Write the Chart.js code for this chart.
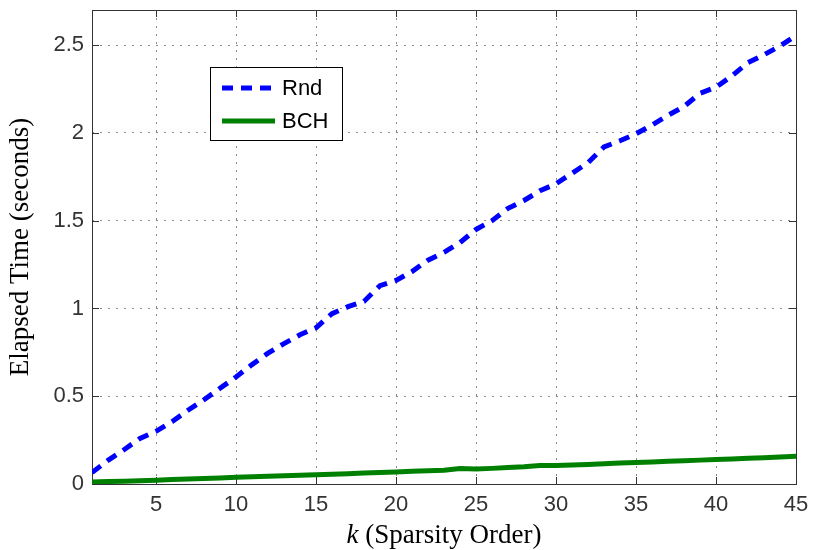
<!DOCTYPE html>
<html><head><meta charset="utf-8">
<script src="https://cdn.jsdelivr.net/npm/chart.js@4/dist/chart.umd.min.js"></script>
<style>html,body{margin:0;padding:0;background:#fff}#wrap{width:813px;height:550px}</style>
</head><body><div id="wrap"><canvas id="c" width="813" height="550"></canvas></div>
<script>
const kValues = [1,2,3,4,5,6,7,8,9,10,11,12,13,14,15,16,17,18,19,20,21,22,23,24,25,26,27,28,29,30,31,32,33,34,35,36,37,38,39,40,41,42,43,44,45];
const rndTime = [0.065,0.135,0.195,0.26,0.30,0.355,0.42,0.48,0.545,0.61,0.68,0.745,0.80,0.85,0.89,0.97,1.01,1.04,1.13,1.16,1.21,1.275,1.32,1.375,1.45,1.50,1.57,1.615,1.67,1.71,1.77,1.83,1.92,1.955,1.995,2.045,2.10,2.15,2.225,2.26,2.325,2.40,2.445,2.495,2.555];
const bchTime = [0.012,0.014,0.016,0.019,0.022,0.025,0.028,0.031,0.034,0.038,0.041,0.044,0.047,0.050,0.053,0.056,0.059,0.062,0.065,0.068,0.072,0.076,0.079,0.088,0.086,0.089,0.094,0.098,0.105,0.105,0.108,0.111,0.115,0.119,0.122,0.126,0.129,0.133,0.136,0.140,0.143,0.147,0.150,0.154,0.158];
const xTickValues = [5,10,15,20,25,30,35,40,45];
const yTickValues = [0,0.5,1,1.5,2,2.5];
const seriesNames = ['Rnd','BCH'];
const xTitleItalic = 'k';
const xTitleRest = ' (Sparsity Order)';
const yTitle = 'Elapsed Time (seconds)';

const AXIS_COLOR = '#333333';
const serif = "'Liberation Serif', 'DejaVu Serif', serif";
const sans = "'Liberation Sans', Arial, Helvetica, sans-serif";

const framePlugin = {
  id: 'frame',
  beforeDatasetsDraw(chart) {
    const {ctx, chartArea: a, scales} = chart;
    ctx.save();
    ctx.strokeStyle = AXIS_COLOR;
    ctx.lineWidth = 1;
    ctx.setLineDash([]);
    const tl = 7;
    ctx.beginPath();
    scales.x.ticks.forEach(t => {
      const px = Math.round(scales.x.getPixelForValue(t.value)) + 0.5;
      ctx.moveTo(px, a.bottom); ctx.lineTo(px, a.bottom - tl);
      ctx.moveTo(px, a.top); ctx.lineTo(px, a.top + tl);
    });
    scales.y.ticks.forEach(t => {
      const py = Math.round(scales.y.getPixelForValue(t.value)) + 0.5;
      ctx.moveTo(a.left, py); ctx.lineTo(a.left + tl, py);
      ctx.moveTo(a.right, py); ctx.lineTo(a.right - tl, py);
    });
    ctx.stroke();
    ctx.strokeRect(Math.round(a.left) + 0.5, Math.round(a.top) + 0.5, Math.round(a.right - a.left), Math.round(a.bottom - a.top));
    ctx.restore();
  },
  afterDraw(chart) {
    const {ctx, chartArea: a} = chart;
    ctx.save();
    const fs = 27;
    ctx.fillStyle = '#000';
    ctx.textBaseline = 'middle';
    ctx.font = `italic ${fs}px ${serif}`;
    const w1 = ctx.measureText(xTitleItalic).width;
    ctx.font = `${fs}px ${serif}`;
    const w2 = ctx.measureText(xTitleRest).width;
    const cx = (a.left + a.right) / 2;
    const x0 = cx - (w1 + w2) / 2;
    const ty = 536;
    ctx.font = `italic ${fs}px ${serif}`;
    ctx.textAlign = 'left';
    ctx.fillText(xTitleItalic, x0, ty);
    ctx.font = `${fs}px ${serif}`;
    ctx.fillText(xTitleRest, x0 + w1, ty);

    const bx = 210.5, by = 67.5, bw = 132, bh = 73;
    ctx.fillStyle = '#fff';
    ctx.fillRect(bx, by, bw, bh);
    ctx.strokeStyle = '#000';
    ctx.lineWidth = 1;
    ctx.strokeRect(bx, by, bw, bh);
    const rows = [88, 121];
    chart.data.datasets.forEach((ds, i) => {
      const y = rows[i];
      ctx.save();
      ctx.strokeStyle = ds.borderColor;
      ctx.lineWidth = ds.borderWidth;
      ctx.setLineDash(ds.borderDash || []);
      ctx.lineCap = 'butt';
      ctx.beginPath();
      ctx.moveTo(222, y); ctx.lineTo(275, y);
      ctx.stroke();
      ctx.restore();
      ctx.fillStyle = '#000';
      ctx.font = `22px ${sans}`;
      ctx.textAlign = 'left';
      ctx.textBaseline = 'middle';
      ctx.fillText(ds.label, 282, y + 1);
    });
    ctx.restore();
  }
};

new Chart(document.getElementById('c'), {
  type: 'line',
  data: {
    labels: kValues,
    datasets: [
      { label: seriesNames[0], data: kValues.map((k, i) => ({x: k, y: rndTime[i]})),
        borderColor: '#0000ff', borderWidth: 5, borderDash: [11, 8], borderCapStyle: 'butt',
        pointRadius: 0, fill: false, tension: 0 },
      { label: seriesNames[1], data: kValues.map((k, i) => ({x: k, y: bchTime[i]})),
        borderColor: '#008000', borderWidth: 5, pointRadius: 0, fill: false, tension: 0 }
    ]
  },
  options: {
    responsive: false,
    animation: false,
    devicePixelRatio: 1,
    layout: { padding: { top: 10, right: 17, left: 0, bottom: 0 } },
    plugins: { legend: { display: false }, tooltip: { enabled: false } },
    scales: {
      x: {
        type: 'linear', min: 1, max: 45,
        afterBuildTicks: s => { s.ticks = xTickValues.map(v => ({value: v})); },
        afterFit: s => { s.height = 66; s.paddingLeft = 0; s.paddingRight = 0; },
        grid: { color: '#8c8c8c', lineWidth: 1, drawTicks: false },
        border: { display: false, dash: [2, 6] },
        ticks: { color: AXIS_COLOR, font: { family: sans, size: 22 }, padding: 8, maxRotation: 0 }
      },
      y: {
        type: 'linear', min: 0, max: 2.7,
        afterBuildTicks: s => { s.ticks = yTickValues.map(v => ({value: v})); },
        afterFit: s => { s.width = 92; s.paddingTop = 0; s.paddingBottom = 0; },
        grid: { color: '#8c8c8c', lineWidth: 1, drawTicks: false },
        border: { display: false, dash: [2, 6] },
        ticks: { color: AXIS_COLOR, font: { family: sans, size: 22 }, padding: 8,
                 callback: v => String(v) },
        title: { display: true, text: yTitle, color: '#000', font: { family: serif, size: 27 }, padding: { top: 5, bottom: 5 } }
      }
    }
  },
  plugins: [framePlugin]
});
</script></body></html>
